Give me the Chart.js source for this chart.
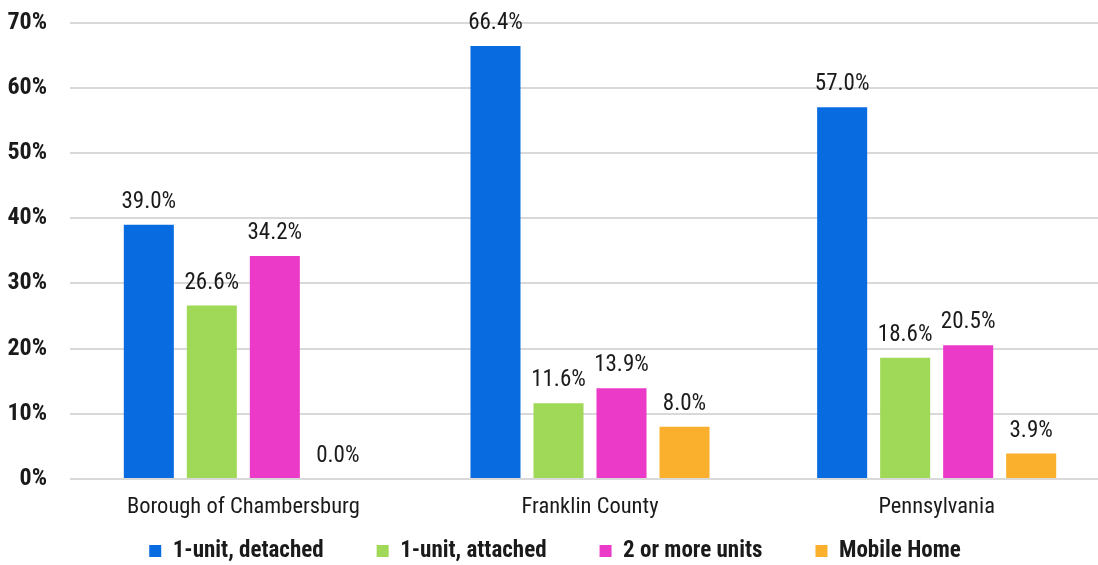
<!DOCTYPE html>
<html>
<head>
<meta charset="utf-8">
<script src="https://cdn.jsdelivr.net/npm/chart.js@4"></script>
<style>
  html, body { margin: 0; padding: 0; overflow: hidden; background: #fff; }
  #wrap { position: relative; width: 1112px; height: 565px; }
</style>
</head>
<body>
<div id="wrap"><canvas id="c"></canvas></div>
<script>
const categories = ['Borough of Chambersburg', 'Franklin County', 'Pennsylvania'];
const seriesNames = ['1-unit, detached', '1-unit, attached', '2 or more units', 'Mobile Home'];
const detached = [39.0, 66.4, 57.0];
const attached = [26.6, 11.6, 18.6];
const multiUnit = [34.2, 13.9, 20.5];
const mobileHome = [0.0, 8.0, 3.9];
const yTicks = [0, 10, 20, 30, 40, 50, 60, 70];

const colors = ['#086CE0', '#A0D858', '#EC3AC8', '#FAB02C'];
const FONT = "'Liberation Sans Narrow', 'Arial Narrow', 'Roboto Condensed', 'DejaVu Sans Condensed', sans-serif";
const TEXT = '#1a1a1a';

const valueLabels = {
  id: 'valueLabels',
  afterDatasetsDraw(chart) {
    const ctx = chart.ctx;
    ctx.save();
    ctx.font = '23px ' + FONT;
    ctx.fillStyle = TEXT;
    ctx.textAlign = 'center';
    ctx.textBaseline = 'alphabetic';
    chart.data.datasets.forEach((ds, i) => {
      const meta = chart.getDatasetMeta(i);
      meta.data.forEach((el, j) => {
        ctx.fillText(ds.data[j].toFixed(1) + '%', el.x, el.y - 17);
      });
    });
    ctx.restore();
  }
};

// legend uses a large label padding for the wide horizontal gaps;
// keep its layout box small and move its drawing box up afterwards
const legendFit = {
  id: 'legendFit',
  beforeLayout(chart) {
    const lg = chart.legend;
    if (lg && !lg._patched) {
      const orig = lg.fit;
      lg.fit = function () { orig.call(this); this.height = 41; };
      lg._patched = true;
    }
  },
  afterLayout(chart) {
    const lg = chart.legend;
    if (!lg) return;
    const pad = lg.options.labels.padding;
    const size = lg.options.labels.font.size;
    const centerY = 551;
    lg.top = centerY - pad - size / 2;
    lg.bottom = chart.height;
    lg.height = lg.bottom - lg.top;
  }
};

new Chart(document.getElementById('c'), {
  type: 'bar',
  data: {
    labels: categories,
    datasets: [detached, attached, multiUnit, mobileHome].map((d, i) => ({
      label: seriesNames[i],
      data: d,
      backgroundColor: colors[i],
      borderWidth: 0,
      categoryPercentage: 0.727,
      barPercentage: 0.794
    }))
  },
  options: {
    responsive: true,
    maintainAspectRatio: false,
    animation: false,
    layout: { padding: { top: 22.5, left: 0, right: 2, bottom: 0 } },
    plugins: {
      tooltip: { enabled: false },
      legend: {
        position: 'bottom',
        labels: {
          boxWidth: 12,
          boxHeight: 12,
          padding: 53,
          color: TEXT,
          font: { family: FONT, size: 23, weight: 'bold' }
        }
      }
    },
    scales: {
      x: {
        grid: { display: false, drawTicks: false },
        border: { display: false },
        ticks: { color: TEXT, padding: 15, font: { family: FONT, size: 22.5 } },
        afterFit(s) { s.height = 45; }
      },
      y: {
        min: 0,
        max: 70,
        afterBuildTicks(s) { s.ticks = yTicks.map(v => ({ value: v })); },
        grid: { color: '#d9d9d9', lineWidth: 2, drawTicks: false },
        border: { display: false },
        ticks: {
          color: TEXT,
          padding: 23,
          font: { family: FONT, size: 24, weight: 'bold' },
          callback: v => v + '%'
        },
        afterFit(s) { s.width = 70; s.paddingTop = 0; s.paddingBottom = 0; }
      }
    }
  },
  plugins: [valueLabels, legendFit]
});
</script>
</body>
</html>
